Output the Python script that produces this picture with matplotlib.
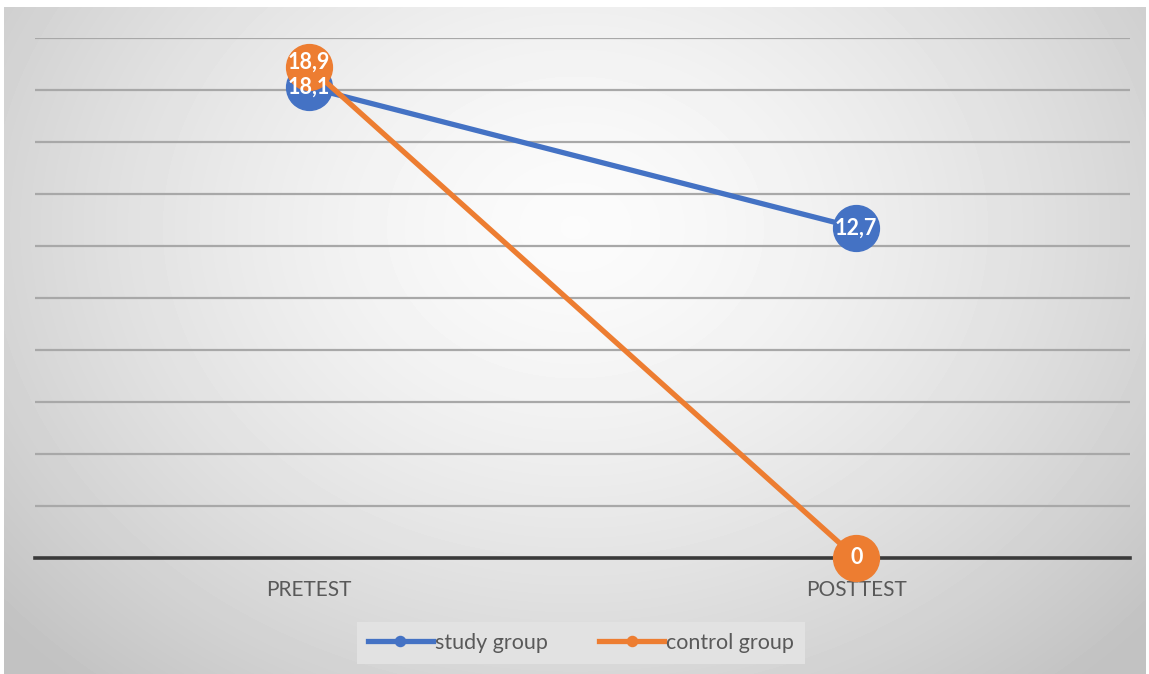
import numpy as np
import matplotlib.pyplot as plt

categories = ['PRETEST', 'POSTTEST']
study_group = [18.1, 12.7]
control_group = [18.9, 0]
labels_study = ['18,1', '12,7']
labels_control = ['18,9', '0']

blue = '#4472C4'
orange = '#ED7D31'
W, H = 1149, 674

fig = plt.figure(figsize=(W / 100, H / 100), dpi=100, facecolor='white')

# radial gray background
bg = fig.add_axes([4 / W, 0, 1142 / W, 667 / H])
yy, xx = np.mgrid[0:667, 0:1142]
r = np.sqrt(((xx - 571) / 700.0) ** 2 + ((yy - 220) / 560.0) ** 2)
shade = np.clip(0.985 - 0.2 * r ** 1.5, 0.76, 1)
bg.imshow(shade, cmap='gray', vmin=0, vmax=1, aspect='auto', interpolation='bilinear')
bg.axis('off')

ax = fig.add_axes([35 / W, (H - 558) / H, 1095 / W, 520 / H])
ax.patch.set_alpha(0)
x = np.arange(len(categories))
ax.set_xlim(-0.5, 1.5)
ax.set_ylim(0, 20)
for v in range(2, 21, 2):
    ax.axhline(v, color='#a8a8a8', lw=1.6, zorder=1)
ax.axhline(0, color='#3a3a3a', lw=2.6, zorder=2, clip_on=False)

l1, = ax.plot(x, study_group, color=blue, lw=3.8, marker='o', ms=33, zorder=3,
              clip_on=False, label='study group')
l2, = ax.plot(x, control_group, color=orange, lw=3.8, marker='o', ms=33, zorder=4,
              clip_on=False, label='control group')

for xi, yi, t in zip(x, study_group, labels_study):
    ax.text(xi, yi, t, color='white', fontsize=15.5, fontweight='bold', family='Lato',
            ha='center', va='center', zorder=5)
for xi, yi, t in zip(x, control_group, labels_control):
    ax.text(xi, yi + (0.15 if yi > 0 else 0), t, color='white', fontsize=15.5,
            fontweight='bold', family='Lato', ha='center', va='center', zorder=6)

ax.set_xticks(x)
ax.set_xticklabels(categories, fontsize=15, color='#595959', family='Lato')
ax.tick_params(axis='x', length=0, pad=16)
ax.set_yticks([])
for s in ax.spines.values():
    s.set_visible(False)

leg = fig.legend(handles=[l1, l2], loc='center', bbox_to_anchor=(581 / W, 1 - 643 / H),
                 ncol=2, frameon=True, prop={'family': 'Lato', 'size': 15.5},
                 handlelength=3.0, columnspacing=2.4, handletextpad=0.1, borderpad=0.5,
                 markerscale=0.22, fancybox=False)
leg.get_frame().set_facecolor('#e2e2e2')
leg.get_frame().set_edgecolor('none')
leg.get_frame().set_alpha(1)
for t in leg.get_texts():
    t.set_color('#595959')

fig.savefig('out.png', dpi=100, facecolor='white')
